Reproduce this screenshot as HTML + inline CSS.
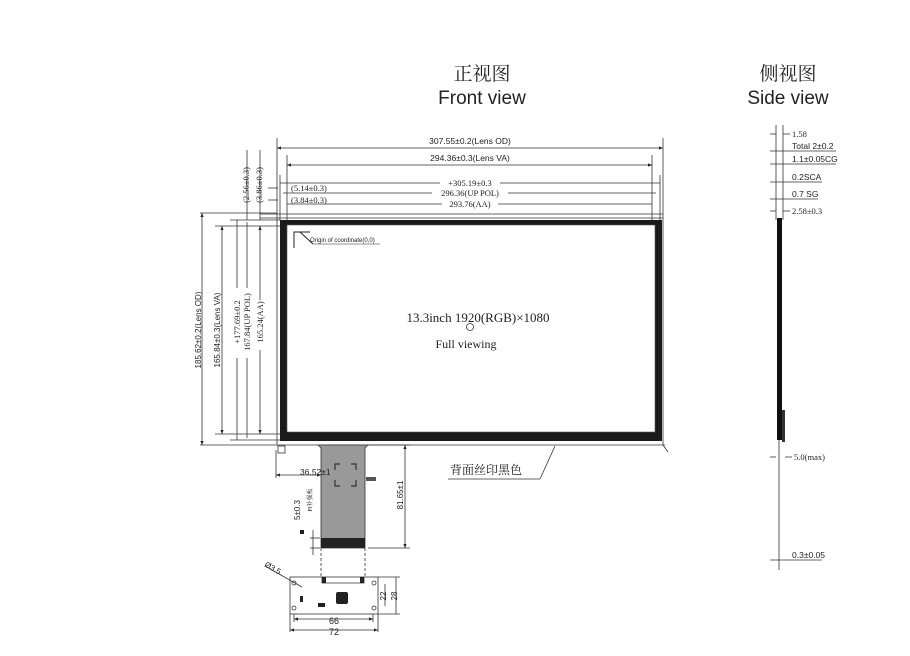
<!DOCTYPE html>
<html><head><meta charset="utf-8"><style>
html,body{margin:0;padding:0;background:#fff;width:910px;height:656px;overflow:hidden}
svg{display:block}
text{font-family:"Liberation Sans","Noto Sans CJK SC",sans-serif;fill:#222}
.s{font-family:"Liberation Serif","Noto Serif CJK SC",serif}
</style></head><body>
<svg width="910" height="656" viewBox="0 0 910 656" xmlns="http://www.w3.org/2000/svg">
<defs><marker id="a" markerWidth="6" markerHeight="6" refX="5" refY="3" orient="auto-start-reverse"><path d="M0,1 L5,3 L0,5 Z" fill="#222"/></marker></defs>
<text x="482" y="80" font-size="19" text-anchor="middle" class="s">正视图</text>
<text x="482" y="104" font-size="19" text-anchor="middle">Front view</text>
<text x="788" y="80" font-size="19" text-anchor="middle" class="s">侧视图</text>
<text x="788" y="104" font-size="19" text-anchor="middle">Side view</text>

<g stroke="#333" stroke-width="0.8" fill="none">
<line x1="277" y1="138" x2="277" y2="445"/>
<line x1="663" y1="138" x2="663" y2="445"/>
<line x1="287" y1="155" x2="287" y2="220"/>
<line x1="652" y1="155" x2="652" y2="220"/>
<line x1="280" y1="175" x2="280" y2="220"/>
<line x1="660" y1="175" x2="660" y2="220"/>
<line x1="277" y1="148" x2="663" y2="148" marker-start="url(#a)" marker-end="url(#a)"/>
<line x1="287" y1="165" x2="652" y2="165" marker-start="url(#a)" marker-end="url(#a)"/>
<line x1="280" y1="183" x2="660" y2="183"/>
<line x1="283" y1="193" x2="656" y2="193"/>
<line x1="287" y1="204" x2="652" y2="204"/>
<line x1="268" y1="188" x2="278" y2="188"/>
<line x1="268" y1="200" x2="278" y2="200"/>
<line x1="260" y1="214" x2="663" y2="214"/>
<line x1="260" y1="218" x2="663" y2="218"/>
<line x1="277" y1="445" x2="665" y2="445"/>
<line x1="200" y1="213" x2="277" y2="213"/>
<line x1="200" y1="445" x2="277" y2="445"/>
<line x1="215" y1="226" x2="282" y2="226"/>
<line x1="215" y1="434" x2="282" y2="434"/>
<line x1="230" y1="220" x2="280" y2="220"/>
<line x1="230" y1="440" x2="280" y2="440"/>
<line x1="202" y1="213" x2="202" y2="445" marker-start="url(#a)" marker-end="url(#a)"/>
<line x1="222" y1="226" x2="222" y2="434" marker-start="url(#a)" marker-end="url(#a)"/>
<line x1="237" y1="220" x2="237" y2="440"/>
<line x1="247" y1="222" x2="247" y2="438"/>
<line x1="260" y1="226" x2="260" y2="434" marker-start="url(#a)" marker-end="url(#a)"/>
<line x1="247" y1="150" x2="247" y2="220"/>
<line x1="260" y1="150" x2="260" y2="220"/>
</g>
<!-- frame -->
<path d="M280 220 H662 V441 H280 Z M287 225 V432 H655 V225 Z" fill="#1a1a1a" fill-rule="evenodd"/>
<rect x="287" y="225" width="368" height="207" fill="none" stroke="#555" stroke-width="0.6"/>
<g stroke="#222" stroke-width="1" fill="none">
<path d="M294 248 V232 H310" /><line x1="300" y1="232" x2="313" y2="244"/><line x1="313" y1="244" x2="380" y2="244" stroke-width="0.6"/>
</g>
<text x="310" y="242" font-size="6">Origin of coordinate(0,0)</text>

<g font-size="8.5">
<text x="470" y="144" text-anchor="middle">307.55±0.2(Lens OD)</text>
<text x="470" y="161" text-anchor="middle">294.36±0.3(Lens VA)</text>
</g>
<g font-size="8.5" class="s">
<rect x="440" y="178" width="60" height="10" fill="#fff"/>
<text x="470" y="186" text-anchor="middle" class="s">+305.19±0.3</text>
<rect x="432" y="188" width="76" height="10" fill="#fff"/>
<text x="470" y="196" text-anchor="middle" class="s">296.36(UP POL)</text>
<rect x="442" y="199" width="56" height="10" fill="#fff"/>
<text x="470" y="207" text-anchor="middle" class="s">293.76(AA)</text>
<text x="291" y="191" class="s">(5.14±0.3)</text>
<text x="291" y="203" class="s">(3.84±0.3)</text>
</g>
<g font-size="8.5">
<text transform="translate(201,330) rotate(-90)" text-anchor="middle" font-size="8">185.62±0.2(Lens OD)</text>
<text transform="translate(220,330) rotate(-90)" text-anchor="middle" font-size="8">165.84±0.3(Lens VA)</text>
<rect x="232" y="288" width="20" height="70" fill="#fff"/>
<text transform="translate(240,322) rotate(-90)" text-anchor="middle" class="s">+177.69±0.2</text>
<text transform="translate(250,322) rotate(-90)" text-anchor="middle" class="s">167.84(UP POL)</text>
<rect x="255" y="300" width="10" height="50" fill="#fff"/>
<text transform="translate(263,322) rotate(-90)" text-anchor="middle" class="s">165.24(AA)</text>
<text transform="translate(249,185) rotate(-90)" text-anchor="middle" class="s">(2.56±0.3)</text>
<text transform="translate(262,185) rotate(-90)" text-anchor="middle" class="s">(3.86±0.3)</text>
</g>
<text x="478" y="322" font-size="13" text-anchor="middle" class="s">13.3inch 1920(RGB)×1080</text>
<circle cx="470" cy="327" r="3.5" fill="none" stroke="#333" stroke-width="0.8"/>
<text x="466" y="348" font-size="12" text-anchor="middle" class="s">Full viewing</text>

<text x="450" y="474" font-size="12" class="s">背面丝印黑色</text>
<g stroke="#333" stroke-width="0.8" fill="none">
<line x1="448" y1="479" x2="540" y2="479"/><line x1="540" y1="479" x2="555" y2="446"/>
<line x1="663" y1="445" x2="668" y2="452"/>
<rect x="278" y="446" width="7" height="7"/>
</g>

<path d="M318 445 L321 448 L321 548 L365 548 L365 448 L368 445 Z" fill="#999" stroke="#333" stroke-width="0.8"/>
<rect x="321" y="538" width="44" height="10" fill="#222"/>
<g stroke="#333" stroke-width="0.8" fill="none">
<path d="M335 470 v-6 h5 M351 464 h5 v6 M335 480 v6 h5 M351 486 h5 v-6" stroke-width="1.2"/>
<line x1="276" y1="450" x2="276" y2="478"/>
<line x1="276" y1="475" x2="321" y2="475" marker-start="url(#a)" marker-end="url(#a)"/>
<line x1="368" y1="445" x2="410" y2="445"/>
<line x1="368" y1="548" x2="410" y2="548"/>
<line x1="405" y1="445" x2="405" y2="548" marker-start="url(#a)" marker-end="url(#a)"/>
<line x1="310" y1="538" x2="320" y2="538"/><line x1="310" y1="548" x2="320" y2="548"/>
<line x1="313" y1="530" x2="313" y2="555"/>
<line x1="321" y1="548" x2="321" y2="578" stroke-dasharray="3,2"/>
<line x1="365" y1="548" x2="365" y2="578" stroke-dasharray="3,2"/>
<rect x="290" y="577" width="88" height="37"/>
<path d="M322 577 v6 h42 v-6"/>
<line x1="378" y1="577" x2="400" y2="577"/>
<line x1="378" y1="614" x2="400" y2="614"/>
<line x1="385" y1="584" x2="385" y2="606"/>
<line x1="396" y1="577" x2="396" y2="614"/>
<line x1="290" y1="614" x2="290" y2="632"/>
<line x1="378" y1="614" x2="378" y2="632"/>
<line x1="294" y1="614" x2="294" y2="622"/>
<line x1="373" y1="614" x2="373" y2="622"/>
<line x1="294" y1="619" x2="373" y2="619" marker-start="url(#a)" marker-end="url(#a)"/>
<line x1="290" y1="630" x2="378" y2="630" marker-start="url(#a)" marker-end="url(#a)"/>
<line x1="265" y1="566" x2="302" y2="587"/>
<circle cx="294" cy="583" r="2"/><circle cx="374" cy="583" r="2"/><circle cx="294" cy="608" r="2"/><circle cx="374" cy="608" r="2"/>
</g>
<rect x="336" y="592" width="12" height="12" rx="2" fill="#222"/>
<rect x="322" y="577" width="4" height="6" fill="#222"/><rect x="360" y="577" width="4" height="6" fill="#222"/>
<rect x="318" y="603" width="7" height="4" fill="#222"/><rect x="300" y="596" width="3" height="6" fill="#222"/>
<rect x="300" y="530" width="4" height="4" fill="#222"/>
<rect x="366" y="477" width="10" height="4" fill="#555"/>
<g font-size="8">
<text x="300" y="475" font-size="8.5">36.52±1</text>
<text transform="translate(403,495) rotate(-90)" text-anchor="middle">81.65±1</text>
<text transform="translate(300,510) rotate(-90)" text-anchor="middle">5±0.3</text>
<text transform="translate(312,500) rotate(-90)" text-anchor="middle" font-size="6" class="s">PI补强板</text>
<text x="264" y="566" transform="rotate(30,264,566)">Ø3.5</text>
<text transform="translate(386,596) rotate(-90)" text-anchor="middle">22</text>
<text transform="translate(397,596) rotate(-90)" text-anchor="middle">28</text>
<text x="334" y="624" font-size="9" text-anchor="middle">66</text>
<text x="334" y="635" font-size="9" text-anchor="middle">72</text>
</g>

<rect x="777" y="218" width="5" height="222" fill="#111"/>
<rect x="782" y="410" width="3" height="32" fill="#333"/>
<g stroke="#333" stroke-width="0.8" fill="none">
<line x1="776" y1="125" x2="776" y2="220"/>
<line x1="783" y1="125" x2="783" y2="220"/>
<line x1="779" y1="440" x2="779" y2="570"/>
<line x1="770" y1="134" x2="776" y2="134"/><line x1="783" y1="134" x2="790" y2="134"/>
<line x1="770" y1="151" x2="836" y2="151"/>
<line x1="770" y1="164" x2="836" y2="164"/>
<line x1="770" y1="182" x2="822" y2="182"/>
<line x1="770" y1="199" x2="818" y2="199"/>
<line x1="770" y1="211" x2="776" y2="211"/><line x1="783" y1="211" x2="790" y2="211"/>
<line x1="770" y1="457" x2="776" y2="457"/><line x1="785" y1="457" x2="792" y2="457"/>
<line x1="770" y1="560" x2="822" y2="560"/>
</g>
<g font-size="8.5">
<text x="792" y="137" class="s">1.58</text>
<text x="792" y="149">Total 2±0.2</text>
<text x="792" y="162">1.1±0.05CG</text>
<text x="792" y="180">0.2SCA</text>
<text x="792" y="197">0.7 SG</text>
<text x="792" y="214" class="s">2.58±0.3</text>
<text x="794" y="460" class="s">5.0(max)</text>
<text x="792" y="558">0.3±0.05</text>
</g>
</svg>
</body></html>
